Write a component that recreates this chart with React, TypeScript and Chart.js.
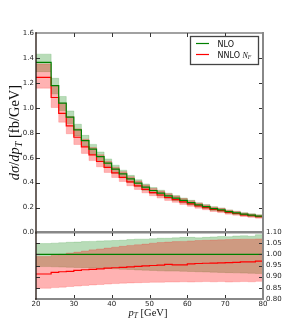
import React, { useEffect, useRef } from "react";
import { Chart, registerables } from "chart.js";

Chart.register(...registerables);

// ---------- data ----------
const binEdges = [20, 22, 24, 26, 28, 30, 32, 34, 36, 38, 40, 42, 44, 46, 48, 50, 52, 54, 56, 58, 60, 62, 64, 66, 68, 70, 72, 74, 76, 78, 80];

const nloValues = [1.365, 1.178, 1.037, 0.925, 0.823, 0.737, 0.668, 0.609, 0.556, 0.508, 0.47, 0.43, 0.396, 0.364, 0.337, 0.316, 0.294, 0.276, 0.257, 0.24, 0.222, 0.208, 0.192, 0.182, 0.168, 0.158, 0.147, 0.139, 0.131, 0.123];

const nnloRatio = [0.912, 0.919, 0.922, 0.924, 0.928, 0.931, 0.933, 0.935, 0.938, 0.94, 0.942, 0.944, 0.946, 0.948, 0.95, 0.952, 0.955, 0.953, 0.953, 0.957, 0.959, 0.96, 0.961, 0.962, 0.963, 0.964, 0.966, 0.966, 0.97, 0.975];

const nloUpRatio = [1.048, 1.05, 1.052, 1.054, 1.055, 1.057, 1.058, 1.06, 1.061, 1.062, 1.063, 1.066, 1.068, 1.068, 1.07, 1.072, 1.072, 1.074, 1.076, 1.076, 1.074, 1.076, 1.078, 1.08, 1.079, 1.082, 1.083, 1.081, 1.088, 1.084];
const nloDownRatio = [0.945, 0.944, 0.943, 0.942, 0.941, 0.94, 0.939, 0.938, 0.936, 0.935, 0.933, 0.932, 0.93, 0.929, 0.928, 0.926, 0.925, 0.925, 0.924, 0.923, 0.922, 0.921, 0.92, 0.919, 0.918, 0.917, 0.916, 0.915, 0.914, 0.913];
const nnloUpRatio = [0.99, 0.995, 1.0, 1.006, 1.01, 1.015, 1.02, 1.024, 1.028, 1.032, 1.036, 1.04, 1.043, 1.046, 1.05, 1.053, 1.055, 1.057, 1.058, 1.06, 1.062, 1.063, 1.064, 1.065, 1.066, 1.067, 1.068, 1.068, 1.069, 1.07];
const nnloDownRatio = [0.848, 0.851, 0.853, 0.856, 0.858, 0.861, 0.863, 0.865, 0.867, 0.869, 0.871, 0.872, 0.873, 0.874, 0.875, 0.875, 0.876, 0.876, 0.877, 0.876, 0.877, 0.878, 0.877, 0.878, 0.876, 0.877, 0.878, 0.877, 0.879, 0.876];

const xTickValues = [20, 30, 40, 50, 60, 70, 80];
const topYTickValues = [0, 0.2, 0.4, 0.6, 0.8, 1.0, 1.2, 1.4, 1.6];
const ratioTickValues = [0.8, 0.85, 0.9, 0.95, 1.0, 1.05, 1.1];

// ---------- helpers ----------
const mul = (a: number[], b: number[]) => a.map((v, i) => v * b[i]);
const steps = (vals: number[]) =>
  binEdges.map((x, i) => ({ x, y: vals[Math.max(0, i - 1)] }));

const GREEN = "#008000";
const RED = "#ff0000";
const GREEN_FILL = "rgba(0,128,0,0.28)";
const RED_FILL = "rgba(255,0,0,0.3)";
const GREEN_EDGE = "rgba(0,128,0,0.22)";
const RED_EDGE = "rgba(255,0,0,0.22)";
const TICK_FONT = { family: "DejaVu Sans", size: 7 };
const MATH_FONT = "Liberation Serif";

function lineDs(label: string, vals: number[], color: string) {
  return {
    label,
    data: steps(vals),
    borderColor: color,
    borderWidth: 1.2,
    pointRadius: 0,
    stepped: "before" as const,
    fill: false,
  };
}
function bandDs(vals: number[], fill: string, edge: string, toNext: boolean) {
  return {
    label: "",
    data: steps(vals),
    borderColor: edge,
    borderWidth: 0.8,
    backgroundColor: fill,
    pointRadius: 0,
    stepped: "before" as const,
    fill: toNext ? "+1" : false,
  };
}

function frameAndTicks(chart: any, xTicks: number[], yTicks: number[], opts: { top: string; topW: number }) {
  const { ctx, chartArea: a, scales } = chart;
  const xs = scales.x;
  const ys = scales.y;
  const L = 4;
  ctx.save();
  ctx.strokeStyle = "#333";
  ctx.lineWidth = 1;
  ctx.beginPath();
  xTicks.forEach((v) => {
    const px = Math.round(xs.getPixelForValue(v)) + 0.5;
    if (px <= a.left + 1 || px >= a.right - 1) return;
    ctx.moveTo(px, a.bottom);
    ctx.lineTo(px, a.bottom - L);
    ctx.moveTo(px, a.top);
    ctx.lineTo(px, a.top + L);
  });
  yTicks.forEach((v) => {
    const py = Math.round(ys.getPixelForValue(v)) + 0.5;
    if (py <= a.top + 1 || py >= a.bottom - 1) return;
    ctx.moveTo(a.left, py);
    ctx.lineTo(a.left + L, py);
    ctx.moveTo(a.right, py);
    ctx.lineTo(a.right - L, py);
  });
  ctx.stroke();

  // spines
  ctx.lineCap = "square";
  ctx.strokeStyle = opts.top;
  ctx.lineWidth = opts.topW;
  ctx.beginPath();
  ctx.moveTo(a.left, a.top);
  ctx.lineTo(a.right, a.top);
  ctx.stroke();
  ctx.strokeStyle = "#888";
  ctx.lineWidth = 2;
  ctx.beginPath();
  ctx.moveTo(a.right, a.top);
  ctx.lineTo(a.right, a.bottom);
  ctx.moveTo(a.left, a.bottom);
  ctx.lineTo(a.right, a.bottom);
  ctx.stroke();
  ctx.strokeStyle = "#1e120c";
  ctx.lineWidth = 1.3;
  ctx.beginPath();
  ctx.moveTo(a.left, a.top);
  ctx.lineTo(a.left, a.bottom);
  ctx.stroke();
  ctx.restore();
}

type Piece = { t: string; italic?: boolean; sub?: boolean; sans?: boolean };
function fontFor(p: Piece, size: number) {
  const s = p.sub ? size * 0.7 : size;
  const fam = p.sans ? "DejaVu Sans" : MATH_FONT;
  return `${p.italic ? "italic " : ""}${s}px "${fam}"`;
}
function measurePieces(ctx: CanvasRenderingContext2D, pieces: Piece[], size: number) {
  let w = 0;
  pieces.forEach((p) => {
    ctx.font = fontFor(p, size);
    w += ctx.measureText(p.t).width;
  });
  return w;
}
function drawPieces(ctx: CanvasRenderingContext2D, pieces: Piece[], size: number, x: number, y: number) {
  let cx = x;
  pieces.forEach((p) => {
    ctx.font = fontFor(p, size);
    ctx.fillText(p.t, cx, p.sub ? y + size * 0.22 : y);
    cx += ctx.measureText(p.t).width;
  });
}

const topPlugin = {
  id: "topDecor",
  afterDatasetsDraw(chart: any) {
    frameAndTicks(chart, xTickValues, topYTickValues, { top: "#444", topW: 1.2 });
    const ctx: CanvasRenderingContext2D = chart.ctx;
    ctx.save();
    const yPieces: Piece[] = [
      { t: "d", italic: true },
      { t: "σ", italic: true },
      { t: "/", italic: false },
      { t: "dp", italic: true },
      { t: "T", italic: true, sub: true },
      { t: " [fb/GeV]" },
    ];
    const size = 14.5;
    ctx.fillStyle = "#111";
    ctx.textBaseline = "alphabetic";
    const w = measurePieces(ctx, yPieces, size);
    ctx.translate(19, 132.5);
    ctx.rotate(-Math.PI / 2);
    drawPieces(ctx, yPieces, size, -w / 2, 0);
    ctx.restore();

    // legend
    ctx.save();
    const bx = 190.5, by = 36.5, bw = 68, bh = 28;
    ctx.fillStyle = "#fff";
    ctx.fillRect(bx, by, bw, bh);
    ctx.strokeStyle = "#444";
    ctx.lineWidth = 1.3;
    ctx.strokeRect(bx, by, bw, bh);
    ctx.lineWidth = 1.2;
    ctx.strokeStyle = GREEN;
    ctx.beginPath();
    ctx.moveTo(196, 43.5);
    ctx.lineTo(209, 43.5);
    ctx.stroke();
    ctx.strokeStyle = RED;
    ctx.beginPath();
    ctx.moveTo(196, 54.5);
    ctx.lineTo(209, 54.5);
    ctx.stroke();
    ctx.fillStyle = "#111";
    ctx.textBaseline = "alphabetic";
    ctx.font = '8px "DejaVu Sans"';
    ctx.fillText("NLO", 217.5, 46.5);
    drawPieces(
      ctx,
      [
        { t: "NNLO ", sans: true },
        { t: "N", italic: true },
        { t: "F", italic: true, sub: true },
      ],
      8,
      217.5,
      57.5
    );
    ctx.restore();
  },
};

const bottomPlugin = {
  id: "bottomDecor",
  afterDatasetsDraw(chart: any) {
    frameAndTicks(chart, xTickValues, ratioTickValues, { top: "#888", topW: 2 });
    const ctx: CanvasRenderingContext2D = chart.ctx;
    ctx.save();
    const pieces: Piece[] = [
      { t: "p", italic: true },
      { t: "T", italic: true, sub: true },
      { t: " [GeV]" },
    ];
    const size = 10.5;
    ctx.fillStyle = "#111";
    ctx.textBaseline = "alphabetic";
    const w = measurePieces(ctx, pieces, size);
    drawPieces(ctx, pieces, size, 148 - w / 2, 316 - 222);
    ctx.restore();
  },
};

export default function App() {
  const topRef = useRef<HTMLCanvasElement | null>(null);
  const botRef = useRef<HTMLCanvasElement | null>(null);

  useEffect(() => {
    const nnloValues = mul(nloValues, nnloRatio);
    const nloOne = nloValues.map((v) => v / v);

    const xScale = (height: number, showLabels: boolean) => ({
      type: "linear" as const,
      min: 20,
      max: 80,
      afterFit: (s: any) => {
        s.height = height;
      },
      afterBuildTicks: (s: any) => {
        s.ticks = xTickValues.map((v) => ({ value: v }));
      },
      grid: { display: false, drawTicks: false },
      border: { display: false },
      ticks: {
        display: showLabels,
        font: TICK_FONT,
        color: "#222",
        padding: 1,
        maxRotation: 0,
        autoSkip: false,
        callback: (v: any) => String(v),
      },
    });

    const top = new Chart(topRef.current as HTMLCanvasElement, {
      type: "line",
      data: {
        datasets: [
          lineDs("NLO", nloValues, GREEN),
          lineDs("NNLO", nnloValues, RED),
          bandDs(mul(nloValues, nnloUpRatio), RED_FILL, RED_EDGE, true),
          bandDs(mul(nloValues, nnloDownRatio), RED_FILL, RED_EDGE, false),
          bandDs(mul(nloValues, nloUpRatio), GREEN_FILL, GREEN_EDGE, true),
          bandDs(mul(nloValues, nloDownRatio), GREEN_FILL, GREEN_EDGE, false),
        ] as any,
      },
      options: {
        animation: false,
        responsive: false,
        devicePixelRatio: 1,
        layout: { padding: { top: 33, right: 29, left: 0, bottom: 0 } },
        plugins: { legend: { display: false }, tooltip: { enabled: false } },
        scales: {
          x: xScale(7.5, false),
          y: {
            type: "linear",
            position: "left",
            min: 0,
            max: 1.6,
            afterFit: (s: any) => {
              s.width = 36;
            },
            afterBuildTicks: (s: any) => {
              s.ticks = topYTickValues.map((v) => ({ value: v }));
            },
            grid: { display: false, drawTicks: false },
            border: { display: false },
            ticks: {
              font: TICK_FONT,
              color: "#222",
              padding: 2,
              autoSkip: false,
              callback: (v: any) => Number(v).toFixed(1),
            },
          },
        },
      },
      plugins: [topPlugin],
    });

    const bottom = new Chart(botRef.current as HTMLCanvasElement, {
      type: "line",
      data: {
        datasets: [
          lineDs("NLO", nloOne, GREEN),
          lineDs("NNLO", nnloRatio, RED),
          bandDs(nnloUpRatio, RED_FILL, RED_EDGE, true),
          bandDs(nnloDownRatio, RED_FILL, RED_EDGE, false),
          bandDs(nloUpRatio, GREEN_FILL, GREEN_EDGE, true),
          bandDs(nloDownRatio, GREEN_FILL, GREEN_EDGE, false),
        ] as any,
      },
      options: {
        animation: false,
        responsive: false,
        devicePixelRatio: 1,
        layout: { padding: { top: 10, right: 0, left: 36, bottom: 0 } },
        plugins: { legend: { display: false }, tooltip: { enabled: false } },
        scales: {
          x: xScale(34, true),
          y: {
            type: "linear",
            position: "right",
            min: 0.8,
            max: 1.1,
            afterFit: (s: any) => {
              s.width = 29;
            },
            afterBuildTicks: (s: any) => {
              s.ticks = ratioTickValues.map((v) => ({ value: v }));
            },
            grid: { display: false, drawTicks: false },
            border: { display: false },
            ticks: {
              font: TICK_FONT,
              color: "#222",
              padding: 3,
              autoSkip: false,
              callback: (v: any) => Number(v).toFixed(2),
            },
          },
        },
      },
      plugins: [bottomPlugin],
    });

    return () => {
      top.destroy();
      bottom.destroy();
    };
  }, []);

  return (
    <div style={{ position: "absolute", left: 0, top: 0, width: 292, height: 333, background: "#fff" }}>
      <canvas
        ref={topRef}
        width={292}
        height={240}
        style={{ position: "absolute", left: 0, top: 0, width: 292, height: 240 }}
      />
      <canvas
        ref={botRef}
        width={292}
        height={111}
        style={{ position: "absolute", left: 0, top: 222, width: 292, height: 111 }}
      />
    </div>
  );
}
